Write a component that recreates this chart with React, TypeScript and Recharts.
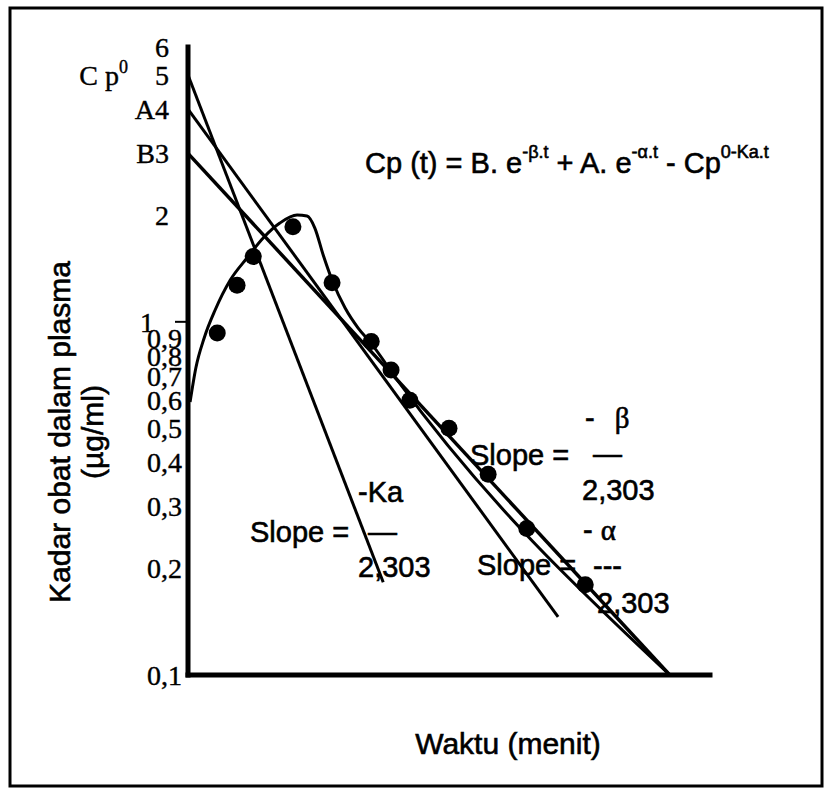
import React from 'react';
import { ComposedChart, Line, Scatter, XAxis, YAxis } from 'recharts';

// ---- data ----
const yTicks = [0.1, 0.2, 0.3, 0.4, 0.5, 0.6, 0.7, 0.8, 0.9, 1, 2, 3, 4, 5, 6];
const yTickLabels = ['0,1', '0,2', '0,3', '0,4', '0,5', '0,6', '0,7', '0,8', '0,9', '1', '2', 'B3', 'A4', '5', '6'];

// straight log-linear lines (time, concentration)
const kaLine = [
  { t: 0, v: 5 },
  { t: 3.74, v: 0.183 },
];
const alphaLine = [
  { t: 0, v: 4 },
  { t: 7.09, v: 0.146 },
];
const betaLine = [
  { t: 0, v: 3 },
  { t: 9.23, v: 0.1 },
];

// plasma curve
const curveT = [0.04, 0.15, 0.31, 0.52, 0.81, 1.13, 1.44, 1.76, 2.09, 2.28, 2.43, 2.59, 2.76, 3.01, 3.26, 3.49, 4.0, 9.23];
const curveV = [0.593, 0.74, 0.9, 1.08, 1.313, 1.516, 1.727, 1.904, 2.006, 1.993, 1.843, 1.546, 1.313, 1.094, 0.96, 0.876, 0.687, 0.1];

// observed points
const obsT = [0.56, 0.94, 1.25, 2.01, 2.76, 3.51, 3.89, 4.25, 5.0, 5.75, 6.49, 7.61];
const obsV = [0.93, 1.27, 1.53, 1.86, 1.29, 0.88, 0.73, 0.6, 0.5, 0.37, 0.26, 0.18];

const curveData = curveT.map((t, i) => ({ t, v: curveV[i] }));
const obsData = obsT.map((t, i) => ({ t, v: obsV[i] }));

const SERIF = "'Liberation Serif', 'Times New Roman', serif";
const SANS = "'Liberation Sans', Arial, sans-serif";
const AXIS_X = 188;

const serifText = { fontFamily: SERIF, fontSize: 28, fill: '#000', stroke: '#000', strokeWidth: 0.4 };
const sansText = { fontFamily: SANS, fontSize: 29, fill: '#000', stroke: '#000', strokeWidth: 0.6 };

const YTick = (props: any) => {
  const { y, payload } = props;
  const idx = yTicks.indexOf(payload.value);
  const label = idx >= 0 ? yTickLabels[idx] : String(payload.value);
  const v = payload.value;
  let ax = AXIS_X - 6;
  if (v >= 2) ax = AXIS_X - 19;
  if (v === 1) ax = AXIS_X - 34;
  return (
    <g>
      <text x={ax} y={y} dy="0.35em" textAnchor="end" {...serifText}>
        {label}
      </text>
      {v === 5 && (
        <text x={AXIS_X - 60} y={y} dy="0.35em" textAnchor="end" {...serifText}>
          <tspan>C p</tspan>
          <tspan dy={-12} fontSize={18}>0</tspan>
        </text>
      )}
      {v === 1 && <line x1={AXIS_X - 13} x2={AXIS_X} y1={y} y2={y} stroke="#000" strokeWidth={2} />}
    </g>
  );
};

const Dot = (props: any) => {
  const { cx, cy } = props;
  return <circle cx={cx} cy={cy} r={8.5} fill="#000" />;
};

export default function App() {
  return (
    <div style={{ position: 'absolute', left: 0, top: 0, width: 826, height: 788, background: '#fff' }}>
      <ComposedChart width={826} height={788} margin={{ top: 47, right: 116, bottom: 103, left: 0 }}>
        <XAxis
          type="number"
          dataKey="t"
          domain={[0, 10]}
          ticks={[]}
          tick={false}
          tickLine={false}
          height={10}
          axisLine={{ stroke: '#000', strokeWidth: 5, strokeLinecap: 'square' }}
        />
        <YAxis
          type="number"
          scale="log"
          domain={[0.1, 6]}
          ticks={yTicks}
          interval={0}
          tick={<YTick />}
          tickLine={false}
          width={188}
          axisLine={{ stroke: '#000', strokeWidth: 5, strokeLinecap: 'square' }}
        />
        <Line data={kaLine} dataKey="v" type="linear" stroke="#000" strokeWidth={3} dot={false} isAnimationActive={false} />
        <Line data={alphaLine} dataKey="v" type="linear" stroke="#000" strokeWidth={3} dot={false} isAnimationActive={false} />
        <Line data={betaLine} dataKey="v" type="linear" stroke="#000" strokeWidth={3.5} dot={false} isAnimationActive={false} />
        <Line data={curveData} dataKey="v" type="monotone" stroke="#000" strokeWidth={3} dot={false} isAnimationActive={false} />
        <Scatter data={obsData} dataKey="v" fill="#000" shape={<Dot />} isAnimationActive={false} />
      </ComposedChart>
      <svg
        width={826}
        height={788}
        style={{ position: 'absolute', left: 0, top: 0, pointerEvents: 'none' }}
      >
        <rect x={10} y={8} width={812} height={778} fill="none" stroke="#000" strokeWidth={3} />
        {/* y-axis title */}
        <text x={70} y={432} transform="rotate(-90 70 432)" textAnchor="middle" {...sansText} fontSize={30}>
          Kadar obat dalam plasma
        </text>
        <text x={103} y={432} transform="rotate(-90 103 432)" textAnchor="middle" {...sansText} fontSize={30}>
          (µg/ml)
        </text>
        {/* x-axis title */}
        <text x={508} y={754} textAnchor="middle" {...sansText} fontSize={30}>
          Waktu (menit)
        </text>
        {/* equation */}
        <text x={365} y={173} {...sansText}>
          <tspan>Cp (t) = B. e</tspan>
          <tspan dy={-15} fontSize={18}>-β.t</tspan>
          <tspan dy={15}> + A. e</tspan>
          <tspan dy={-15} fontSize={18}>-α.t</tspan>
          <tspan dy={15}> - Cp</tspan>
          <tspan dy={-15} fontSize={18}>0-Ka.t</tspan>
        </text>
        {/* Ka slope */}
        <text x={358} y={502} {...sansText}>-Ka</text>
        <text x={250} y={542} {...sansText}>Slope =</text>
        <text x={368} y={542} {...sansText}>—</text>
        <text x={358} y={577} {...sansText}>2,303</text>
        {/* beta slope */}
        <text x={585} y={428} {...sansText}>
          <tspan>- </tspan>
          <tspan dx={12} fontFamily={SERIF}>β</tspan>
        </text>
        <text x={470} y={465} {...sansText}>Slope =</text>
        <text x={593} y={464} {...sansText}>—</text>
        <text x={582} y={500} {...sansText}>2,303</text>
        {/* alpha slope */}
        <text x={583} y={540} {...sansText}>
          <tspan>- </tspan>
          <tspan fontFamily={SERIF}>α</tspan>
        </text>
        <text x={477} y={575} {...sansText}>Slope =</text>
        <text x={593} y={576} {...sansText}>---</text>
        <text x={597} y={613} {...sansText}>2,303</text>
      </svg>
    </div>
  );
}
